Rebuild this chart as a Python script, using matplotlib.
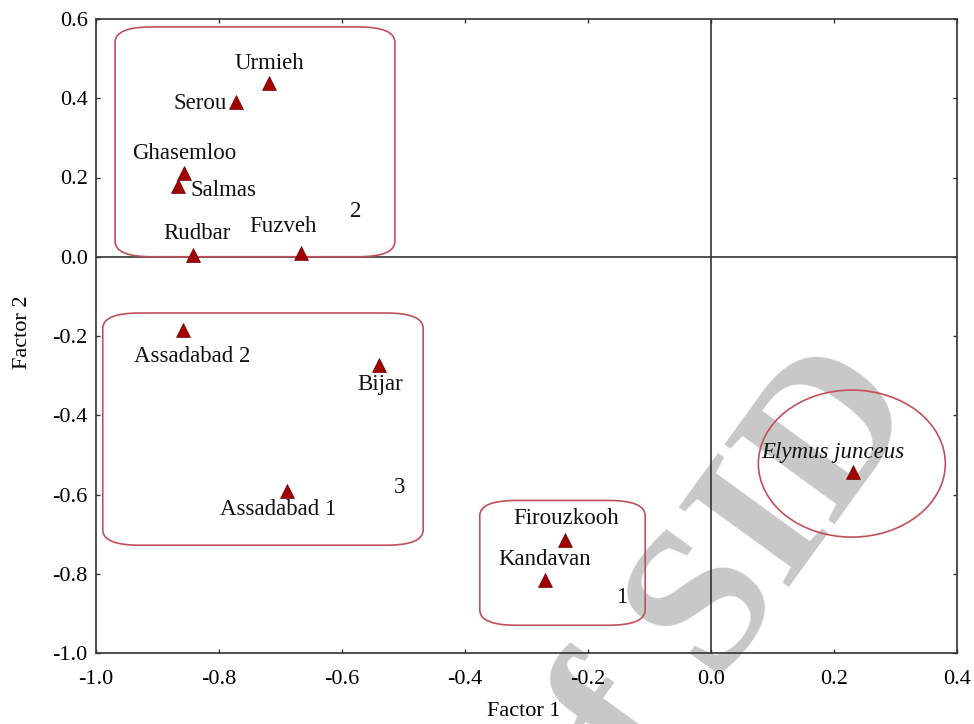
import matplotlib
matplotlib.use("Agg")
import matplotlib.pyplot as plt
from matplotlib.patches import FancyBboxPatch, Ellipse

plt.rcParams['font.family'] = ['Liberation Serif', 'DejaVu Serif']

# Factor scores of the populations
populations = ["Urmieh", "Serou", "Ghasemloo", "Salmas", "Rudbar", "Fuzveh",
               "Assadabad 2", "Bijar", "Assadabad 1", "Firouzkooh", "Kandavan",
               "Elymus junceus"]
factor1 = [-0.719, -0.772, -0.857, -0.867, -0.842, -0.667,
           -0.859, -0.540, -0.689, -0.237, -0.270, 0.231]
factor2 = [0.438, 0.390, 0.211, 0.178, 0.004, 0.010,
           -0.185, -0.274, -0.592, -0.716, -0.817, -0.544]

# Cluster numbers
cluster_labels = ["1", "2", "3"]
cluster_label_x = [-0.146, -0.577, -0.507]
cluster_label_y = [-0.86, 0.113, -0.582]

xticks = [-1.0, -0.8, -0.6, -0.4, -0.2, 0.0, 0.2, 0.4]
yticks = [-1.0, -0.8, -0.6, -0.4, -0.2, 0.0, 0.2, 0.4, 0.6]

# label offsets (pixels) and horizontal alignment for each population name
label_pos = {
    "Urmieh": (1, 20, "center"),
    "Serou": (-9, -1, "right"),
    "Ghasemloo": (0, 20, "center"),
    "Salmas": (13, -4, "left"),
    "Rudbar": (4, 22, "center"),
    "Fuzveh": (-18, 26, "center"),
    "Assadabad 2": (9, -26, "center"),
    "Bijar": (1, -19, "center"),
    "Assadabad 1": (-9, -18, "center"),
    "Firouzkooh": (1, 22, "center"),
    "Kandavan": (0, 21, "center"),
    "Elymus junceus": (-20, 20, "center"),
}

fig = plt.figure(figsize=(9.74, 7.24), dpi=100)
ax = fig.add_axes([96 / 974, 1 - 653 / 724, (957 - 96) / 974, (653 - 19) / 724])

ax.set_xlim(-1.0, 0.4)
ax.set_ylim(-1.0, 0.6)
ax.set_xticks(xticks)
ax.set_yticks(yticks)
ax.set_xticklabels([f"{v:.1f}" for v in xticks])
ax.set_yticklabels([f"{v:.1f}" for v in yticks])
ax.tick_params(direction="in", length=3, width=1, labelsize=16, color="#333333",
               top=True, right=True)
ax.tick_params(axis="x", pad=12)
ax.tick_params(axis="y", pad=6)
for s in ax.spines.values():
    s.set_linewidth(1.2)
    s.set_color("#333333")

ax.axhline(0, color="#333333", lw=1.2, zorder=1)
ax.axvline(0, color="#333333", lw=1.2, zorder=1)

# group outlines
red = "#c0505a"
boxes = [(-0.969, 0.0, 0.455, 0.58), (-0.989, -0.728, 0.521, 0.586),
         (-0.376, -0.930, 0.269, 0.315)]
for bx, by, bw, bh in boxes:
    ax.add_patch(FancyBboxPatch((bx, by), bw, bh,
                                boxstyle="round,pad=0,rounding_size=0.06",
                                mutation_aspect=396 / 615,
                                fill=False, ec=red, lw=1.2, zorder=2))
ax.add_patch(Ellipse((0.229, -0.522), 0.304, 0.371, fill=False, ec=red, lw=1.2,
                     zorder=2))

ax.scatter(factor1, factor2, marker="^", s=100, color="#a00000", zorder=4,
           edgecolors="#700000", linewidths=0.5)

for name, x, y in zip(populations, factor1, factor2):
    dx, dy, ha = label_pos[name]
    style = "italic" if name == "Elymus junceus" else "normal"
    ax.annotate(name, (x, y), xytext=(dx, dy), textcoords="offset pixels",
                ha=ha, va="center", fontsize=16.5, fontstyle=style,
                color="#111111", zorder=5)

for lab, x, y in zip(cluster_labels, cluster_label_x, cluster_label_y):
    ax.text(x, y, lab, ha="center", va="center", fontsize=16.5, color="#111111",
            zorder=5)

ax.set_xlabel("Factor 1", fontsize=16)
ax.set_ylabel("Factor 2", fontsize=16)
ax.xaxis.set_label_coords(0.497, -0.078)
ax.yaxis.set_label_coords(-0.0743, 0.506)

# faint background stamp
ax.text(0.946, 0.440, "Archive of SID", transform=fig.transFigure,
        fontsize=150, color="#c8c8c8", fontweight="bold", rotation=54,
        rotation_mode="anchor", ha="right", va="baseline", zorder=0.5,
        clip_on=False)

fig.savefig("out.png", dpi=100, facecolor="white")
